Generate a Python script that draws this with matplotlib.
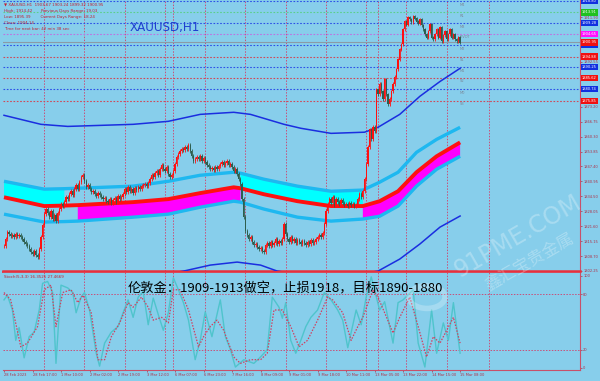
import matplotlib
matplotlib.use("Agg")
import matplotlib.pyplot as plt
import matplotlib.transforms as mtransforms
from matplotlib.patches import Circle
import numpy as np

plt.rcParams['font.family'] = ['DejaVu Sans']

# XAUUSD H1 收盘价（逐根读图）
closes = [
    1813.0, 1816.0, 1819.0,
    1818.2, 1817.3, 1817.8, 1816.9, 1818.2, 1817.3, 1817.8, 1816.9,
    1816.0, 1814.7, 1813.9, 1813.0,
    1811.7, 1810.4, 1809.6, 1810.9, 1809.1, 1808.3,
    1811.7, 1816.9, 1822.1, 1826.8, 1829.0,
    1827.2, 1825.5, 1828.1, 1824.7, 1826.4, 1823.8, 1827.2,
    1829.0, 1831.1, 1830.3, 1832.0, 1834.1, 1833.3, 1835.4, 1836.7, 1835.0, 1837.6, 1839.3, 1837.6,
    1840.6, 1842.8, 1843.6,
    1841.0, 1838.4, 1839.3, 1837.6, 1836.3, 1836.7, 1835.4, 1834.6, 1835.9, 1835.0, 1834.1,
    1833.3, 1833.7, 1832.4, 1832.0, 1833.3, 1831.5, 1832.8, 1833.7, 1832.0, 1834.6, 1833.3, 1834.1,
    1835.4, 1837.6, 1836.3, 1838.4, 1836.7, 1837.6, 1835.9, 1838.0, 1837.2, 1838.4, 1837.6, 1838.9,
    1839.3, 1839.7, 1838.9, 1840.2,
    1841.9, 1843.6, 1842.8, 1844.5, 1845.4, 1843.6,
    1846.2, 1847.9, 1846.2, 1845.4, 1847.1, 1844.1,
    1842.8, 1843.6, 1845.4,
    1848.4, 1851.4, 1852.7, 1854.0,
    1854.8, 1854.4, 1855.7, 1854.8, 1856.6,
    1854.0, 1851.8, 1849.7, 1850.5, 1851.4,
    1850.5, 1851.8, 1849.7, 1851.0, 1849.2, 1847.9,
    1847.1, 1846.2, 1846.7, 1845.8, 1847.1, 1846.2, 1847.5, 1848.4,
    1849.2, 1847.9, 1848.8, 1849.7, 1847.9, 1848.4,
    1847.1, 1845.4, 1846.2, 1844.1, 1841.9, 1839.7,
    1833.3, 1825.5, 1819.5,
    1817.8, 1816.0, 1816.9, 1814.7, 1813.4, 1813.9, 1812.6, 1811.7, 1812.2, 1810.9, 1810.4,
    1813.4, 1814.3, 1813.0, 1814.7, 1813.4, 1814.3, 1816.0, 1813.9, 1815.2, 1814.3, 1816.0, 1822.5,
    1818.2, 1816.0, 1814.7, 1816.9, 1815.2, 1816.0, 1814.3, 1815.6, 1814.7, 1813.9,
    1815.2, 1814.3, 1813.4, 1814.7, 1813.9, 1815.6, 1814.3, 1814.7,
    1816.0, 1816.9, 1817.8, 1816.9, 1818.6,
    1822.5, 1828.1, 1831.1,
    1833.3, 1831.5, 1834.1, 1830.7, 1833.3, 1832.0, 1831.1, 1832.8, 1831.5,
    1830.7, 1831.1, 1830.3, 1831.5, 1830.7, 1831.1, 1830.3, 1830.7,
    1833.3, 1835.4, 1834.1, 1836.7,
    1841.9, 1848.4, 1855.7, 1863.4,
    1859.1, 1864.3, 1862.6,
    1880.7, 1878.5, 1882.9, 1879.8, 1876.4,
    1885.0, 1878.5, 1874.2, 1876.4, 1879.8, 1882.9,
    1885.9, 1889.3, 1893.6, 1897.9, 1900.1, 1906.6,
    1910.0, 1908.7, 1911.7, 1910.9, 1909.6, 1912.2, 1911.3, 1910.0, 1909.1, 1910.9, 1908.3,
    1906.6, 1904.4, 1903.1, 1905.7, 1908.7, 1903.1,
    1902.3, 1904.4, 1906.6, 1903.1, 1907.4, 1901.4, 1904.0, 1905.7, 1902.3, 1904.4, 1906.6,
    1903.1, 1904.4, 1902.3, 1901.4, 1903.1, 1900.9,
]
wick = 0.8

# 通道（青色上下轨 + 红色中线）
band_idx = [0, 24, 36, 44, 77, 98, 117, 137, 141, 155, 175, 195, 214, 224, 235, 246, 258, 272]
band_up = [1841.0, 1837.6, 1837.8, 1838.0, 1838.9, 1841.0, 1843.6, 1844.9, 1844.5,
           1841.9, 1838.9, 1836.7, 1837.2, 1840.6, 1844.9, 1853.5, 1859.1, 1864.3]
band_mid = [1834.1, 1830.3, 1830.5, 1830.7, 1832.0, 1833.3, 1835.9, 1838.4, 1838.0,
            1835.4, 1832.4, 1830.3, 1830.3, 1832.4, 1836.7, 1844.9, 1851.8, 1857.8]
band_lo = [1826.8, 1823.4, 1823.6, 1823.8, 1825.5, 1826.8, 1829.8, 1832.4, 1832.0,
           1829.0, 1825.5, 1823.8, 1824.7, 1825.9, 1830.3, 1838.9, 1846.2, 1851.8]
fill_dn = [1, 1, 1, 0, 0, 0, 0, 0, 1, 1, 1, 1, 1, 0, 0, 0, 0, 0]
fill_upt = [0, 0, 0, 1, 1, 1, 1, 1, 1, 0, 0, 0, 1, 1, 1, 1, 1, 1]

# 外侧蓝线
blue_up_idx = [0, 22, 38, 77, 98, 117, 137, 147, 167, 177, 195, 215, 223, 236, 248, 260, 272]
blue_up = [1869.5, 1865.6, 1864.7, 1865.6, 1866.9, 1869.9, 1870.8, 1869.9, 1865.6,
           1863.9, 1861.7, 1862.2, 1864.3, 1869.9, 1877.7, 1884.1, 1889.8]
blue_lo_idx = [0, 24, 77, 107, 123, 139, 153, 163, 195, 223, 236, 248, 260, 272]
blue_lo = [1798.8, 1794.9, 1798.4, 1802.2, 1804.8, 1806.1, 1804.8, 1802.2, 1798.8,
           1802.2, 1807.4, 1813.9, 1821.2, 1826.0]

# 枢轴位
piv_names = ["M4", "R1", "M3", "PIVOT", "M2", "S1", "M1", "S2", "M0", "S3"]
piv_vals = [1918.80, 1913.91, 1909.28, 1904.65, 1899.77, 1894.88, 1890.25, 1885.62, 1880.74, 1875.85]
piv_cols = ["#2c4fe8", "#5ccf8a", "#2c4fe8", "#c070e0", "#2c4fe8", "#d04858",
            "#2c4fe8", "#d04858", "#2c4fe8", "#d04858"]
box_cols = ["#1030e0", "#20c020", "#1030e0", "#ff10ff", "#1030e0", "#f01010",
            "#1030e0", "#f01010", "#1030e0", "#f01010"]
bid = 1900.95

# 右侧可见的价格刻度（被价格框挡住的不列）
price_ticks = [1802.25, 1808.70, 1815.15, 1821.60, 1828.05, 1834.50, 1840.95, 1847.40,
               1853.85, 1860.30, 1866.75, 1873.20, 1892.55, 1911.90]

# 日分隔线（bar 序号）
sep_idx = [24, 48, 72, 96, 101, 120, 144, 168, 192, 216, 223, 240, 264, 289]

# Stoch(5,3,3)
st_main_idx = [0, 2, 5, 7, 9, 12, 15, 18, 21, 23, 26, 29, 31, 34, 38, 41, 43, 46, 48, 51, 55,
               57, 60, 64, 68, 71, 74, 77, 80, 83, 86, 89, 92, 95, 98, 101, 104, 107, 110,
               114, 117, 120, 124, 129, 132, 135, 138, 143, 149, 153, 157, 160, 164, 166,
               168, 171, 174, 177, 180, 183, 187, 191, 195, 199, 202, 205, 210, 213, 216,
               219, 224, 227, 232, 235, 238, 244, 247, 251, 255, 258, 262, 265, 268, 272]
st_main = [74, 79, 63, 30, 44, 11, 34, 39, 63, 92, 94, 82, 5, 90, 87, 82, 60, 77, 82, 63, 16,
           2, 27, 39, 45, 60, 74, 55, 77, 83, 47, 76, 58, 41, 60, 98, 85, 71, 52,
           9, 30, 61, 34, 74, 34, 20, 1, 9, 5, 12, 20, 77, 66,
           54, 71, 30, 16, 30, 45, 55, 63, 82, 74, 63, 52, 22, 63, 47, 77,
           99, 63, 72, 27, 71, 74, 85, 27, 1, 63, 16, 49, 30, 71, 16]
st_sig_idx = [0, 4, 10, 14, 20, 24, 28, 31, 35, 40, 44, 47, 52, 56, 60, 64, 69, 74, 77, 82,
              86, 89, 94, 98, 101, 105, 110, 116, 119, 123, 127, 131, 137, 141, 147, 153,
              157, 161, 166, 171, 176, 181, 187, 193, 196, 202, 207, 211, 214, 220, 223,
              227, 232, 236, 242, 247, 252, 256, 260, 264, 268, 272]
st_sig = [82, 74, 23, 27, 45, 85, 90, 45, 82, 85, 71, 79, 60, 9, 9, 34, 49, 71, 66, 77,
          66, 52, 55, 49, 85, 85, 63, 23, 34, 45, 52, 41, 12, 5, 9, 9,
          16, 63, 63, 45, 23, 30, 52, 77, 74, 60, 30, 45, 55, 85, 77,
          60, 38, 55, 77, 45, 12, 34, 27, 41, 55, 27]

date_idx = [0, 17, 34, 51, 68, 85, 102, 119, 136, 153, 170, 187, 204, 221, 238, 255, 272]
date_lbl = ["28 Feb 2023", "28 Feb 17:00", "1 Mar 10:00", "2 Mar 02:00", "2 Mar 19:00",
            "3 Mar 12:00", "6 Mar 07:00", "6 Mar 23:00", "7 Mar 16:00", "8 Mar 09:00",
            "9 Mar 01:00", "9 Mar 18:00", "10 Mar 11:00", "13 Mar 05:00", "13 Mar 22:00",
            "14 Mar 15:00", "15 Mar 08:00"]

bg = "#87ceeb"
axis_red = "#c8506a"
grid_red = "#c8507a"
txt_red = "#b03048"
small = 2.6

fig = plt.figure(figsize=(6.0, 3.81), dpi=100, facecolor=bg)
ax = fig.add_axes([3 / 600, 1 - 271 / 381, 577 / 600, 271 / 381], facecolor=bg)
ax2 = fig.add_axes([3 / 600, 1 - 370 / 381, 577 / 600, 98 / 381], facecolor=bg)

xlim = (-0.6, 343.5)
for a in (ax, ax2):
    a.set_xlim(*xlim)
    for x in sep_idx:
        a.axvline(x, color=grid_red, ls=(0, (1.5, 1.5)), lw=0.7, zorder=1)
    for s in ("top", "left"):
        a.spines[s].set_visible(False)
    a.spines["right"].set_color(axis_red)
    a.spines["right"].set_linewidth(0.8)
    a.spines["bottom"].set_color(axis_red)

ax.set_ylim(1802.25, 1919.3)

# 枢轴水平线
for v, c in zip(piv_vals, piv_cols):
    ax.axhline(v, color=c, ls=(0, (1.5, 1.5)), lw=0.8, zorder=1)
ax.axhline(bid, color="#8a9aa6", lw=0.8, zorder=1)
for n, v in zip(piv_names, piv_vals):
    ax.text(272, v - 0.6, n, fontsize=small, color="#7a8899", ha="left", va="top", zorder=2)

# 通道
bx = np.array(band_idx)
ax.fill_between(bx, band_up, band_mid, where=np.array(fill_dn, bool), color="#00ffff",
                lw=0, zorder=2)
ax.fill_between(bx, band_mid, band_lo, where=np.array(fill_upt, bool), color="#ff00ff",
                lw=0, zorder=2)
ax.plot(bx, band_up, color="#1eb8f0", lw=2.4, zorder=3, solid_capstyle="butt")
ax.plot(bx, band_lo, color="#1eb8f0", lw=2.4, zorder=3, solid_capstyle="butt")
ax.plot(bx, band_mid, color="#ff1010", lw=2.8, zorder=3, solid_capstyle="butt")
ax.plot(blue_up_idx, blue_up, color="#1a2ee0", lw=1.1, zorder=3)
ax.plot(blue_lo_idx, blue_lo, color="#1a2ee0", lw=1.1, zorder=3)

# K线
c = np.array(closes)
o = np.concatenate([[closes[0]], c[:-1]])
idx = np.arange(len(c))
up = c >= o
colors = np.where(up, "#ff1010", "#2e5e4e")
hi = np.maximum(o, c) + wick
lo = np.minimum(o, c) - wick
ax.vlines(idx, lo, hi, colors=colors, lw=0.6, zorder=4)
ax.bar(idx, np.abs(c - o) + 0.15, bottom=np.minimum(o, c), width=0.75, color=colors,
       lw=0, zorder=4)

ax.yaxis.tick_right()
ax.set_yticks(price_ticks)
ax.set_yticklabels(["%.2f" % v for v in price_ticks])
ax.tick_params(axis="y", labelsize=small, colors=txt_red, length=1.5, width=0.5, pad=0.8)
ax.set_xticks([])
ax.spines["bottom"].set_color("#e8303c")
ax.spines["bottom"].set_linewidth(1.8)

# 右侧价格框
tr = mtransforms.blended_transform_factory(ax.transAxes, ax.transData)
for v, bc in zip(piv_vals, box_cols):
    ax.text(1.003, v, "%.2f" % v, transform=tr, fontsize=small, color="white", ha="left",
            va="center", clip_on=False, zorder=6,
            bbox=dict(boxstyle="square,pad=0.3", fc=bc, ec="none"))
ax.text(1.003, bid, "%.2f" % bid, transform=tr, fontsize=small, color="white", ha="left",
        va="center", clip_on=False, zorder=7,
        bbox=dict(boxstyle="square,pad=0.3", fc="#f01010", ec="none"))

# 左上信息
hdr = ["\u25bc XAUUSD,H1  1903.67 1903.24 1899.32 1900.95",
       "High: 1914.42       Previous Days Range: 19.03",
       "Low: 1895.39        Current Days Range: 18.24",
       "Close: 1904.14",
       "Time for next bar: 42 min 38 sec"]
for k, line in enumerate(hdr):
    ax.text(0.002, 1 - (5 + 6 * k) / 271, line, transform=ax.transAxes, fontsize=2.9,
            color="#c02030", ha="left", va="center", zorder=6)
ax.text((130 - 3) / 577, 1 - 27 / 271, "XAUUSD,H1", transform=ax.transAxes, fontsize=8.6,
        color="#2040d0", ha="left", va="center", zorder=6)

# Stoch
ax2.set_ylim(-2.2, 104.3)
for lv in (20, 80):
    ax2.axhline(lv, color=grid_red, ls=(0, (1.5, 1.5)), lw=0.7, zorder=1)
ax2.plot(st_main_idx, st_main, color="#4fc4cc", lw=1.0, zorder=3)
ax2.plot(st_sig_idx, st_sig, color="#d04060", lw=0.9, ls=(0, (1.2, 1.2)), zorder=3)
ax2.yaxis.tick_right()
ax2.set_yticks([0, 20, 80, 100])
ax2.set_yticklabels(["0", "20", "80", "100"])
ax2.tick_params(axis="y", labelsize=small, colors=txt_red, length=1.5, width=0.5, pad=0.8)
ax2.set_xticks(date_idx)
ax2.set_xticklabels(date_lbl)
ax2.tick_params(axis="x", labelsize=small, colors=txt_red, length=1.5, width=0.5, pad=0.8)
for t in ax2.get_xticklabels():
    t.set_ha("left")
ax2.spines["top"].set_visible(True)
ax2.spines["top"].set_color("#e8303c")
ax2.spines["top"].set_linewidth(1.2)
ax2.spines["bottom"].set_linewidth(0.8)
ax2.text(0.002, 0.97, "Stoch(5,3,3) 16.3525 27.4669", transform=ax2.transAxes, fontsize=2.9,
         color="#c02030", ha="left", va="top")

# 水印
fig.patches.append(Circle((427 / 600, 1 - 297 / 381), 18 / 600, transform=fig.transFigure,
                          fill=False, ec="white", lw=4, alpha=0.25))
fig.text(518 / 600, 1 - 236 / 381, "91PME.COM", fontsize=17, color="white", alpha=0.28,
         rotation=30, ha="center", va="center")
fig.text(530 / 600, 1 - 262 / 381, "鑫汇宝贵金属", fontsize=12, color="white", alpha=0.28,
         rotation=30, ha="center", va="center", family=["Noto Sans CJK SC", "DejaVu Sans"])

fig.text(128 / 600, 1 - 289 / 381, "伦敦金：1909-1913做空，止损1918，目标1890-1880",
         fontsize=9.5, color="black", ha="left", va="center",
         family=["Noto Sans CJK SC", "DejaVu Sans"])

fig.savefig("out.png", dpi=100, facecolor=bg)
